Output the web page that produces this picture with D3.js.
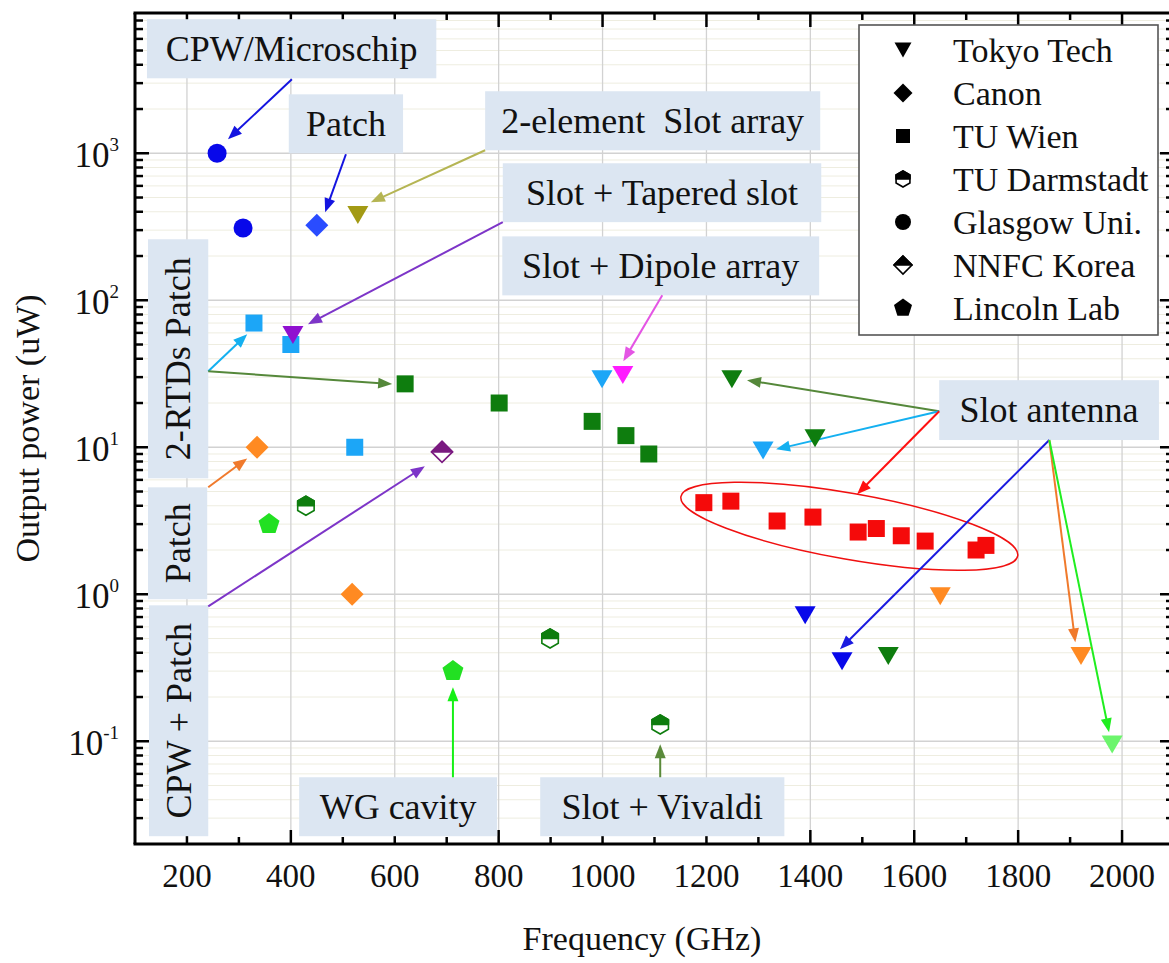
<!DOCTYPE html>
<html>
<head>
<meta charset="utf-8">
<script src="https://cdn.jsdelivr.net/npm/d3@7"></script>
<style>
  html, body { margin: 0; padding: 0; background: #ffffff; }
  svg, svg text { font-family: 'Liberation Serif', Tinos, 'Times New Roman', Times, 'DejaVu Serif', serif; }
</style>
</head>
<body>
<svg id="chart" width="1169" height="963"></svg>
<script>
// ---- Data: frequency (GHz) and output power (uW) by group ----
const tokyoTechFreq  = [529, 404, 999, 1039, 1249, 1309, 1409, 1390, 1461, 1550, 1650, 1921, 1981];
const tokyoTechPower = [380, 58, 29, 31, 29, 9.5, 11.5, 0.72, 0.35, 0.38, 0.97, 0.38, 0.095];
const canonFreq  = [450, 335, 518];
const canonPower = [324, 10, 1.0];
const tuWienFreq  = [329, 400, 523, 620, 801, 980, 1045, 1089,
                     1195, 1247, 1336, 1405, 1492, 1527, 1575, 1621, 1719, 1738];
const tuWienPower = [70, 50, 10, 27, 20, 15, 12, 9,
                     4.2, 4.3, 3.15, 3.35, 2.65, 2.8, 2.5, 2.3, 2.0, 2.15];
const darmstadtFreq  = [429, 899, 1111];
const darmstadtPower = [4.0, 0.5, 0.13];
const glasgowFreq  = [258, 308];
const glasgowPower = [1000, 310];
const nnfcFreq  = [691];
const nnfcPower = [9.3];
const lincolnFreq  = [358, 712];
const lincolnPower = [3.0, 0.3];

const legendNames = ["Tokyo Tech", "Canon", "TU Wien", "TU Darmstadt", "Glasgow Uni.", "NNFC Korea", "Lincoln Lab"];
const xTickValues = [200, 400, 600, 800, 1000, 1200, 1400, 1600, 1800, 2000];
const yTickExponents = [-1, 0, 1, 2, 3];

// Annotation callouts (placed in data units)
const noteLabels = ["CPW/Microschip", "Patch", "2-element  Slot array", "Slot + Tapered slot",
                    "Slot + Dipole array", "2-RTDs Patch", "Patch", "CPW + Patch",
                    "WG cavity", "Slot + Vivaldi", "Slot antenna"];
const noteFreqSpan  = [[123, 680], [396, 616], [774, 1419], [808, 1421], [807, 1417],
                       [125, 241], [125, 239], [127, 241], [416, 797], [880, 1350], [1648, 2071]];
const notePowerSpan = [[8166, 3236], [2518, 1000], [2642, 1048], [855, 340], [272, 108],
                       [260, 6.15], [5.34, 0.925], [0.841, 0.0226], [0.0569, 0.0226], [0.0569, 0.0226], [28.6, 11.2]];
const noteVertical  = [false, false, false, false, false, true, true, true, false, false, false];

const arrowFrom = [[402, 3184], [506, 985], [774, 1048], [808, 340], [1115, 108],
                   [241, 32.9], [241, 32.9], [241, 5.34], [241, 0.828],
                   [712, 0.0569], [1111, 0.0569],
                   [1648, 17.6], [1648, 17.6], [1648, 17.6],
                   [1860, 11.2], [1860, 11.2], [1860, 11.2]];
const arrowTo   = [[279, 1245], [466, 397], [554, 464], [433, 68.7], [1040, 38.5],
                   [316, 58.8], [595, 26.9], [316, 8.4], [658, 7.43],
                   [712, 0.233], [1111, 0.0955],
                   [1278, 28.6], [1334, 9.68], [1490, 4.79],
                   [1457, 0.423], [1910, 0.471], [1975, 0.115]];

// Grouping ellipse around the TU Wien high-frequency squares
const ellipseCenter = [1475, 2.9];

// ---- Styles ----
const FONT = "'Liberation Serif', Tinos, 'Times New Roman', Times, 'DejaVu Serif', serif";
const C = {
  olive: "#a39a14", violet: "#9010d0", sky: "#1ca6f7", magenta: "#ff1cff",
  dkgreen: "#0e7d0e", blue: "#0808ea", royal: "#2a4cff", orange: "#ff8a22",
  ltgreen: "#6cf56c", red: "#f50a0a", lime: "#22e022", plum: "#7a1a80"
};
const tokyoTechColors = [C.olive, C.violet, C.sky, C.magenta, C.dkgreen, C.sky, C.dkgreen,
                         C.blue, C.blue, C.dkgreen, C.orange, C.orange, C.ltgreen];
const canonColors = [C.royal, C.orange, C.orange];
const tuWienColors = [C.sky, C.sky, C.sky, C.dkgreen, C.dkgreen, C.dkgreen, C.dkgreen, C.dkgreen,
                      C.red, C.red, C.red, C.red, C.red, C.red, C.red, C.red, C.red, C.red];
const arrowColors = ["#1414e0", "#1414e0", "#b5b553", "#7d35c8", "#e455e4",
                     "#14b0f0", "#55883a", "#f07a2c", "#7d35c8",
                     "#16f016", "#5a8a3a",
                     "#55883a", "#14b0f0", "#ff1010",
                     "#1a1ae0", "#f07a2c", "#20ee20"];

const svg = d3.select("#chart").attr("font-family", FONT);
const W = 1169, H = 963;
const x = d3.scaleLinear().domain([100, 2100]).range([135, 1174]);
const y = d3.scaleLog().domain([0.02, 9000]).range([844, 13]);
const [x0, x1] = x.range();
const [yB, yT] = y.range();

// ---- Marker shapes ----
const shape = {
  triDown: (w, h) => `M${-w/2},${-h/2}L${w/2},${-h/2}L0,${h/2}Z`,
  square: s => `M${-s/2},${-s/2}h${s}v${s}h${-s}Z`,
  diamond: r => `M0,${-r}L${r},0L0,${r}L${-r},0Z`,
  diamondTop: r => `M${-r},0L0,${-r}L${r},0Z`,
  pentagon: r => "M" + d3.range(5).map(k => {
      const a = -Math.PI / 2 + k * 2 * Math.PI / 5;
      return [r * Math.cos(a), r * Math.sin(a)].join(",");
    }).join("L") + "Z",
  hexagon: r => {
    const c = r * Math.cos(Math.PI / 6);
    return `M0,${-r}L${c},${-r/2}L${c},${r/2}L0,${r}L${-c},${r/2}L${-c},${-r/2}Z`;
  },
  hexTop: r => {
    const c = r * Math.cos(Math.PI / 6);
    return `M${-c},0L${-c},${-r/2}L0,${-r}L${c},${-r/2}L${c},0Z`;
  }
};

// ---- Grid ----
const grid = svg.append("g");
const minorY = [];
for (let e = -2; e <= 3; e++) for (let m = 2; m <= 9; m++) {
  const v = m * Math.pow(10, e);
  if (v > 0.02 && v < 9000) minorY.push(v);
}
grid.selectAll("line.minorY").data(minorY).join("line")
  .attr("x1", x0).attr("x2", W).attr("y1", d => y(d)).attr("y2", d => y(d))
  .attr("stroke", "#eeede0").attr("stroke-width", 1);
grid.selectAll("line.majorY").data(yTickExponents.map(e => Math.pow(10, e))).join("line")
  .attr("x1", x0).attr("x2", W).attr("y1", d => y(d)).attr("y2", d => y(d))
  .attr("stroke", "#d2d2d2").attr("stroke-width", 1.3);
grid.selectAll("line.majorX").data(xTickValues).join("line")
  .attr("x1", d => x(d)).attr("x2", d => x(d)).attr("y1", yT).attr("y2", yB)
  .attr("stroke", "#d2d2d2").attr("stroke-width", 1.3);

// ---- Axes ticks (inward) ----
const axes = svg.append("g").attr("stroke", "#000");
const xMinor = d3.range(100, 2100, 100).filter(v => v % 200 !== 0 && v > 100);
axes.selectAll("line.bMaj").data(xTickValues).join("line")
  .attr("x1", d => x(d)).attr("x2", d => x(d)).attr("y1", yB).attr("y2", yB - 14).attr("stroke-width", 2.5);
axes.selectAll("line.bMin").data(xMinor).join("line")
  .attr("x1", d => x(d)).attr("x2", d => x(d)).attr("y1", yB).attr("y2", yB - 7).attr("stroke-width", 2.5);
axes.selectAll("line.tMaj").data(xTickValues).join("line")
  .attr("x1", d => x(d)).attr("x2", d => x(d)).attr("y1", yT).attr("y2", yT + 14).attr("stroke-width", 2.5);
axes.selectAll("line.tMin").data(xMinor).join("line")
  .attr("x1", d => x(d)).attr("x2", d => x(d)).attr("y1", yT).attr("y2", yT + 7).attr("stroke-width", 2.5);
const yMajorVals = yTickExponents.map(e => Math.pow(10, e));
axes.selectAll("line.lMaj").data(yMajorVals).join("line")
  .attr("x1", x0).attr("x2", x0 + 14).attr("y1", d => y(d)).attr("y2", d => y(d)).attr("stroke-width", 2.5);
axes.selectAll("line.lMin").data(minorY).join("line")
  .attr("x1", x0).attr("x2", x0 + 8).attr("y1", d => y(d)).attr("y2", d => y(d)).attr("stroke-width", 2.5);
axes.selectAll("line.rMaj").data(yMajorVals).join("line")
  .attr("x1", x1).attr("x2", x1 - 14).attr("y1", d => y(d)).attr("y2", d => y(d)).attr("stroke-width", 2.5);
axes.selectAll("line.rMin").data(minorY).join("line")
  .attr("x1", x1).attr("x2", x1 - 8).attr("y1", d => y(d)).attr("y2", d => y(d)).attr("stroke-width", 2.5);

// ---- Annotation boxes ----
const notes = svg.append("g");
noteLabels.forEach((label, i) => {
  const bx0 = x(noteFreqSpan[i][0]), bx1 = x(noteFreqSpan[i][1]);
  const by0 = y(notePowerSpan[i][0]), by1 = y(notePowerSpan[i][1]);
  notes.append("rect").attr("x", bx0).attr("y", by0)
    .attr("width", bx1 - bx0).attr("height", by1 - by0).attr("fill", "#dce6f2");
  const cx = (bx0 + bx1) / 2, cy = (by0 + by1) / 2;
  const t = notes.append("text").text(label)
    .attr("font-family", FONT)
    .attr("font-size", 36).attr("fill", "#111").attr("text-anchor", "middle")
    .style("white-space", "pre");
  if (noteVertical[i]) {
    t.attr("transform", `translate(${cx + 12},${cy}) rotate(-90)`);
  } else {
    t.attr("x", cx).attr("y", cy + 12);
  }
});

// ---- Ellipse ----
svg.append("ellipse")
  .attr("cx", 0).attr("cy", 0).attr("rx", 171).attr("ry", 33)
  .attr("transform", `translate(${x(ellipseCenter[0])},${y(ellipseCenter[1])}) rotate(10)`)
  .attr("fill", "none").attr("stroke", "#f01010").attr("stroke-width", 1.5);

// ---- Arrows ----
const arrows = svg.append("g");
arrowFrom.forEach((from, i) => {
  const ax = x(from[0]), ay = y(from[1]);
  const bx = x(arrowTo[i][0]), by = y(arrowTo[i][1]);
  const ang = Math.atan2(by - ay, bx - ax);
  const L = 14, hw = 5.5;
  const baseX = bx - L * Math.cos(ang), baseY = by - L * Math.sin(ang);
  arrows.append("line").attr("x1", ax).attr("y1", ay)
    .attr("x2", baseX + 2 * Math.cos(ang)).attr("y2", baseY + 2 * Math.sin(ang))
    .attr("stroke", arrowColors[i]).attr("stroke-width", 2);
  const px = -Math.sin(ang), py = Math.cos(ang);
  arrows.append("path")
    .attr("d", `M${bx},${by}L${baseX + hw * px},${baseY + hw * py}L${baseX - hw * px},${baseY - hw * py}Z`)
    .attr("fill", arrowColors[i]);
});

// ---- Markers ----
const marks = svg.append("g");
function plotSeries(freq, power, colors, drawer) {
  freq.forEach((f, i) => drawer(marks.append("g")
    .attr("transform", `translate(${x(f)},${y(power[i])})`), colors[i]));
}
const solid = (pathFn) => (g, col) => g.append("path").attr("d", pathFn()).attr("fill", col);
const halfFilled = (fullFn, topFn) => (g, col) => {
  g.append("path").attr("d", fullFn()).attr("fill", "#fff").attr("stroke", col).attr("stroke-width", 1.6);
  g.append("path").attr("d", topFn()).attr("fill", col).attr("stroke", col).attr("stroke-width", 1.6).attr("stroke-linejoin", "round");
};

plotSeries(glasgowFreq, glasgowPower, glasgowFreq.map(() => C.blue),
  (g, col) => g.append("circle").attr("r", 9.5).attr("fill", col));
plotSeries(canonFreq, canonPower, canonColors, solid(() => shape.diamond(11.5)));
plotSeries(tuWienFreq, tuWienPower, tuWienColors, solid(() => shape.square(17)));
plotSeries(lincolnFreq, lincolnPower, lincolnFreq.map(() => C.lime), solid(() => shape.pentagon(11)));
plotSeries(darmstadtFreq, darmstadtPower, darmstadtFreq.map(() => C.dkgreen),
  halfFilled(() => shape.hexagon(9.5), () => shape.hexTop(9.5)));
plotSeries(nnfcFreq, nnfcPower, nnfcFreq.map(() => C.plum),
  halfFilled(() => shape.diamond(10.5), () => shape.diamondTop(10.5)));
plotSeries(tokyoTechFreq, tokyoTechPower, tokyoTechColors, solid(() => shape.triDown(21, 18)));

// ---- Axis frame ----
const frame = svg.append("g").attr("stroke", "#000").attr("stroke-width", 3).attr("fill", "none");
frame.append("line").attr("x1", x0 - 1.5).attr("x2", W + 2).attr("y1", yB).attr("y2", yB);
frame.append("line").attr("x1", x0 - 1.5).attr("x2", W + 2).attr("y1", yT).attr("y2", yT);
frame.append("line").attr("x1", x0).attr("x2", x0).attr("y1", yT).attr("y2", yB);
frame.append("line").attr("x1", x1).attr("x2", x1).attr("y1", yT).attr("y2", yB);

// ---- Tick labels ----
svg.append("g").selectAll("text").data(xTickValues).join("text")
  .attr("font-family", FONT)
  .attr("x", d => x(d)).attr("y", 887).attr("text-anchor", "middle")
  .attr("font-size", 33).attr("fill", "#111").text(d => d);

const yl = svg.append("g").selectAll("text").data(yTickExponents).join("text")
  .attr("font-family", FONT)
  .attr("x", 119).attr("y", d => y(Math.pow(10, d)) + 14).attr("text-anchor", "end")
  .attr("fill", "#111");
yl.append("tspan").attr("font-size", 35).text("10");
yl.append("tspan").attr("font-size", 19).attr("dy", -16).text(d => String(d));

// ---- Axis titles ----
svg.append("text").attr("font-family", FONT).attr("x", 642).attr("y", 950).attr("text-anchor", "middle")
  .attr("font-size", 34).attr("fill", "#111").text("Frequency (GHz)");
svg.append("text").attr("font-family", FONT).attr("transform", `translate(39,${(yT + yB) / 2}) rotate(-90)`)
  .attr("text-anchor", "middle").attr("font-size", 34).attr("fill", "#111").text("Output power (uW)");

// ---- Legend ----
const lg = svg.append("g");
lg.append("rect").attr("x", 859).attr("y", 25).attr("width", 299).attr("height", 310)
  .attr("fill", "#fff").attr("stroke", "#555").attr("stroke-width", 1.6);
const legendDrawers = [
  solid(() => shape.triDown(17, 15)),
  solid(() => shape.diamond(9.5)),
  solid(() => shape.square(14)),
  halfFilled(() => shape.hexagon(8), () => shape.hexTop(8)),
  (g, col) => g.append("circle").attr("r", 8).attr("fill", col),
  halfFilled(() => shape.diamond(9), () => shape.diamondTop(9)),
  solid(() => shape.pentagon(9.5))
];
legendNames.forEach((name, i) => {
  const cy = 50 + i * 43;
  legendDrawers[i](lg.append("g").attr("transform", `translate(903,${cy})`), "#000");
  lg.append("text").attr("font-family", FONT).attr("x", 953).attr("y", cy + 12)
    .attr("font-size", 34).attr("fill", "#111").text(name);
});
</script>
</body>
</html>
